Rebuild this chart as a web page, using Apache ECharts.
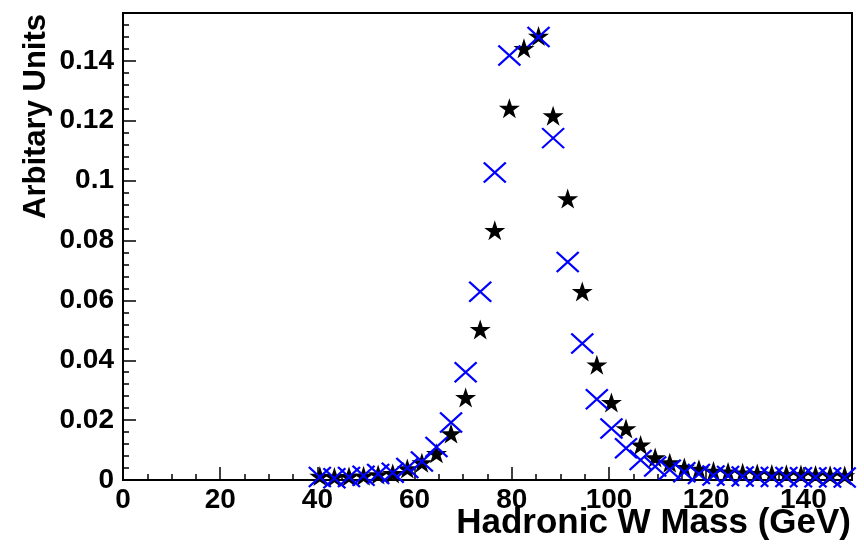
<!DOCTYPE html>
<html>
<head>
<meta charset="utf-8">
<script src="https://cdn.jsdelivr.net/npm/echarts@6/dist/echarts.min.js"></script>
<style>
  html, body { margin: 0; padding: 0; background: #fff; }
  #chart { width: 864px; height: 551px; }
</style>
</head>
<body>
<div id="chart"></div>
<script>
// Bin centres of the hadronic W mass histograms (3 GeV bins)
const massBins = [40.5, 43.5, 46.5, 49.5, 52.5, 55.5, 58.5, 61.5, 64.5, 67.5,
  70.5, 73.5, 76.5, 79.5, 82.5, 85.5, 88.5, 91.5, 94.5, 97.5,
  100.5, 103.5, 106.5, 109.5, 112.5, 115.5, 118.5, 121.5, 124.5, 127.5,
  130.5, 133.5, 136.5, 139.5, 142.5, 145.5, 148.5];

// Black star histogram (normalised)
const starValues = [0.0013, 0.0010, 0.0012, 0.0014, 0.0018, 0.0022, 0.0038, 0.0058, 0.0089, 0.0155,
  0.0276, 0.0503, 0.0834, 0.1242, 0.1442, 0.1483, 0.1217, 0.0940, 0.0630, 0.0385,
  0.0259, 0.0172, 0.0117, 0.0075, 0.0058, 0.0042, 0.0036, 0.0030, 0.0027, 0.0024,
  0.0022, 0.0020, 0.0019, 0.0018, 0.0017, 0.0016, 0.0015];

// Blue cross histogram (normalised); the 82.5 GeV bin peaks above the frame
const crossValues = [0.0010, 0.0006, 0.0010, 0.0014, 0.0020, 0.0024, 0.0040, 0.0062, 0.0110, 0.0192,
  0.0360, 0.0629, 0.1027, 0.1418, 0.1650, 0.1480, 0.1142, 0.0728, 0.0456, 0.0270,
  0.0172, 0.0106, 0.0067, 0.0045, 0.0034, 0.0026, 0.0020, 0.0015, 0.0013, 0.0012,
  0.0011, 0.0010, 0.0010, 0.0009, 0.0009, 0.0008, 0.0008];

// Axis ranges and tick steps
const xRange = [0, 150];
const yRange = [0, 0.156];
const xMajorStep = 20, xMinorStep = 5;
const yMajorStep = 0.02, yMinorStep = 0.004;

const xTitle = 'Hadronic W Mass (GeV)';
const yTitle = 'Arbitary Units';

const FONT = '"Liberation Sans", Arial, Helvetica, sans-serif';

const starPath = 'path://M50,0L61.23,34.55L97.55,34.55L68.17,55.9L79.39,90.45L50,69.1L20.61,90.45L31.83,55.9L2.45,34.55L38.77,34.55Z';
const crossPath = 'path://M0,0L20,20M20,0L0,20';

const chart = echarts.init(document.getElementById('chart'), null, { renderer: 'canvas' });

const majorX = {
  type: 'value', min: xRange[0], max: xRange[1], interval: xMajorStep,
  position: 'bottom',
  axisLine: { show: true, onZero: false, lineStyle: { color: '#000', width: 2 } },
  axisTick: { show: true, inside: true, length: 13, lineStyle: { color: '#000', width: 1.5 } },
  splitLine: { show: false },
  axisLabel: {
    show: true, margin: 6, color: '#000', fontFamily: FONT, fontWeight: 'bold', fontSize: 28,
    formatter: v => (Math.abs(v % xMajorStep) < 1e-9 ? String(v) : '')
  }
};
const minorX = {
  type: 'value', min: xRange[0], max: xRange[1], interval: xMinorStep,
  position: 'bottom',
  axisLine: { show: false, onZero: false },
  axisTick: { show: true, inside: true, length: 6, lineStyle: { color: '#000', width: 1.5 } },
  splitLine: { show: false },
  axisLabel: { show: false }
};
const majorY = {
  type: 'value', min: yRange[0], max: yRange[1], interval: yMajorStep,
  position: 'left',
  axisLine: { show: true, onZero: false, lineStyle: { color: '#000', width: 2 } },
  axisTick: { show: true, inside: true, length: 13, lineStyle: { color: '#000', width: 1.5 } },
  splitLine: { show: false },
  axisLabel: {
    show: true, margin: 9, color: '#000', fontFamily: FONT, fontWeight: 'bold', fontSize: 28,
    formatter: v => {
      const r = Math.round(v * 100) / 100;
      return Math.abs(r - v) < 1e-9 ? String(r) : '';
    }
  }
};
const minorY = {
  type: 'value', min: yRange[0], max: yRange[1], interval: yMinorStep,
  position: 'left',
  axisLine: { show: false, onZero: false },
  axisTick: { show: true, inside: true, length: 6, lineStyle: { color: '#000', width: 1.5 } },
  splitLine: { show: false },
  axisLabel: { show: false }
};

const toPairs = vals => massBins.map((x, i) => [x, vals[i]]);

chart.setOption({
  animation: false,
  backgroundColor: '#fff',
  grid: {
    left: 123, right: 12, top: 13, bottom: 71,
    show: true, borderColor: '#000', borderWidth: 2, backgroundColor: 'transparent'
  },
  xAxis: [majorX, minorX],
  yAxis: [majorY, minorY],
  graphic: [
    {
      type: 'text',
      x: 851, y: 523,
      style: {
        text: xTitle, fill: '#000', font: 'bold 35px ' + FONT,
        textAlign: 'right', textVerticalAlign: 'middle'
      }
    },
    {
      type: 'text',
      x: 36, y: 14, rotation: Math.PI / 2,
      style: {
        text: yTitle, fill: '#000', font: 'bold 31px ' + FONT,
        textAlign: 'right', textVerticalAlign: 'middle'
      }
    }
  ],
  series: [
    {
      name: 'stars', type: 'scatter', xAxisIndex: 0, yAxisIndex: 0,
      data: toPairs(starValues),
      symbol: starPath, symbolSize: [21, 20], symbolKeepAspect: false,
      itemStyle: { color: '#000', opacity: 1 },
      clip: true, z: 3
    },
    {
      name: 'crosses', type: 'scatter', xAxisIndex: 0, yAxisIndex: 0,
      data: toPairs(crossValues),
      symbol: crossPath, symbolSize: [22, 20],
      itemStyle: { color: 'none', borderColor: '#0000ff', borderWidth: 2.2, opacity: 1 },
      clip: true, z: 4
    }
  ]
});
</script>
</body>
</html>
